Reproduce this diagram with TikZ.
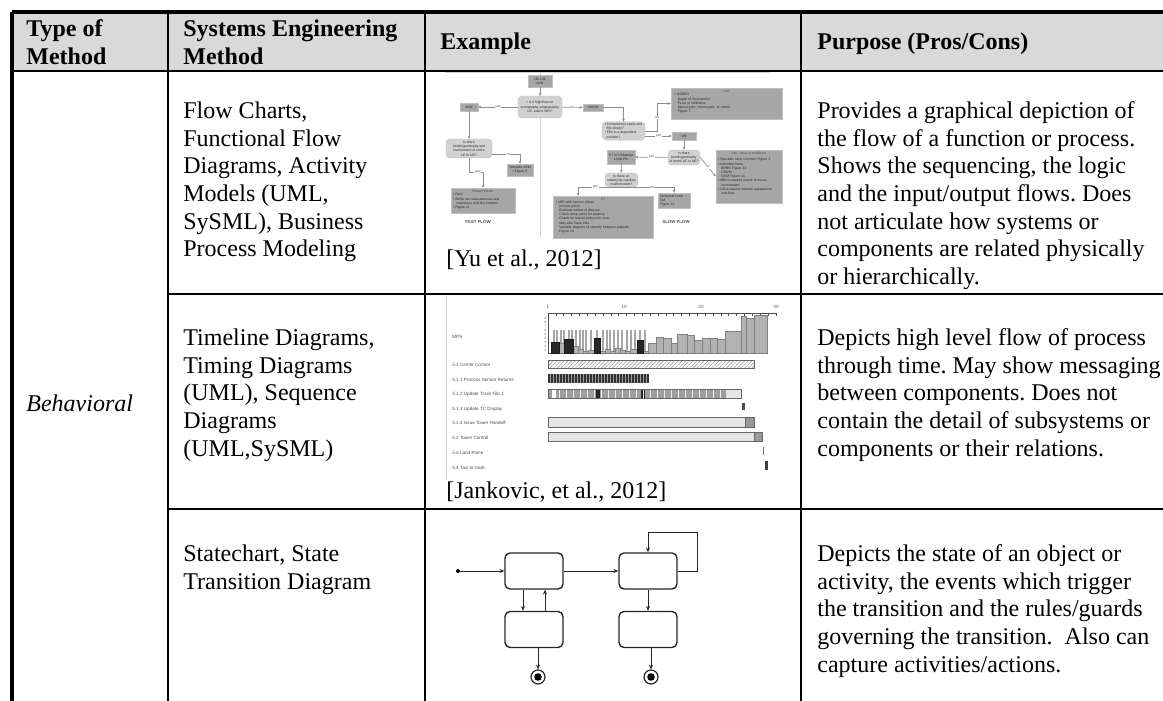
\documentclass[tikz,border=0pt]{standalone}
\usepackage{fontspec}
\setmainfont{Liberation Serif}
\setsansfont{Liberation Sans}
\usepackage{tikz}
\usetikzlibrary{positioning}
\usetikzlibrary{arrows.meta}
\usetikzlibrary{patterns.meta}
\frenchspacing
\newcommand\cellfont{\fontsize{12}{13.8}\selectfont}
\newcommand\flowfont{\fontsize{1.7}{2.1}\selectfont\sffamily}
\newcommand\tlfont{\fontsize{2.3}{2.8}\selectfont\sffamily}
\tikzset{
    rule/.style = {line width=1.3pt},
    outer/.style = {line width=1.7pt},
    headfill/.style = {fill=black!15},
    cell/.style = {anchor=north west, inner sep=0pt, align=left, font=\cellfont},
    head/.style = {cell, font=\cellfont\bfseries},
    fbox/.style = {fill=black!35, draw=black!25, line width=0.2pt, inner sep=0.6pt, align=left, font=\flowfont, text=black!85},
    fround/.style = {fbox, fill=black!18, rounded corners=2pt, align=center},
    flow/.style = {draw=black!45, line width=0.35pt, -{Stealth[length=1.6pt, width=1.4pt]}},
    fl/.style = {font=\flowfont, fill=white, inner sep=0.3pt, text=black!70},
    sep/.style = {draw=black!18, line width=0.5pt},
    tl/.style = {anchor=west, inner sep=0pt, font=\tlfont, text=black!70},
    lightbar/.style = {fill=black!30, draw=black!50, line width=0.2pt},
    darkbar/.style = {fill=black!85, draw=black!90, line width=0.2pt},
    state/.style = {draw=black!85, line width=0.7pt, rounded corners=2.5pt, minimum width=29pt, minimum height=18pt, inner sep=0pt},
    startdot/.style = {circle, fill=black, minimum size=2pt, inner sep=0pt},
    stopdot/.style = {circle, draw=black!85, line width=0.6pt, minimum size=7pt, inner sep=0pt,
        path picture={\fill (path picture bounding box.center) circle (1.9pt);}},
    trans/.style = {draw=black!85, line width=0.5pt, -{Stealth[length=2.4pt, width=2pt]}}
}

\begin{document}
\begin{tikzpicture}[x=0.5pt, y=-0.5pt]
    \useasboundingbox (0, 0) rectangle (1163, 701);

    % table frame
    \fill [style=headfill] (12, 12) rectangle (1163, 71);
    \draw [style=outer] (12, 12) -- (1163, 12);
    \draw [style=rule] (12, 71) -- (1163, 71);
    \draw [style=rule] (168, 294) -- (1163, 294);
    \draw [style=rule] (168, 509) -- (1163, 509);
    \draw [style=outer] (12, 12) -- (12, 701);
    \draw [style=rule] (168, 12) -- (168, 701);
    \draw [style=rule] (425, 12) -- (425, 701);
    \draw [style=rule] (801, 12) -- (801, 701);

    % header
    \node [style=head] (h1) at (26, 17) {\strut Type of\\Method};
    \node [style=head] (h2) at (183, 17) {\strut Systems Engineering\\Method};
    \node [style=head] (h3) at (440, 30) {\strut Example};
    \node [style=head] (h4) at (817, 30) {\strut Purpose (Pros/Cons)};

    % type column
    \node [style=cell, font=\cellfont\itshape] (kind) at (26, 392) {\strut Behavioral};

    % method column
    \node [style=cell] (m1) at (183, 99) {\strut Flow Charts,\\Functional Flow\\Diagrams, Activity\\Models (UML,\\SySML), Business\\Process Modeling};
    \node [style=cell] (m2) at (183, 326) {\strut Timeline Diagrams,\\Timing Diagrams\\(UML), Sequence\\Diagrams\\(UML,SySML)};
    \node [style=cell] (m3) at (183, 542) {\strut Statechart, State\\Transition Diagram};

    % purpose column
    \node [style=cell] (p1) at (817, 99) {\strut Provides a graphical depiction of\\the flow of a function or process.\\Shows the sequencing, the logic\\and the input/output flows. Does\\not articulate how systems or\\components are related physically\\or hierarchically.};
    \node [style=cell] (p2) at (817, 326) {\strut Depicts high level flow of process\\through time. May show messaging\\between components. Does not\\contain the detail of subsystems or\\components or their relations.};
    \node [style=cell] (p3) at (817, 542) {\strut Depicts the state of an object or\\activity, the events which trigger\\the transition and the rules/guards\\governing the transition.\ \ Also can\\capture activities/actions.};

    % example 1: flow chart
    \draw [style=sep] (445, 73) -- (770, 73);
    \draw [style=sep] (540, 73) -- (540, 237);
    \node [style=fbox, minimum width=12pt, minimum height=6pt, align=center] (fTop) at (540, 81) {VM, LM,\\AVM};
    \node [style=fround, minimum width=22pt, minimum height=11pt] (fHigh) at (540, 107) {\textbullet{} Is it high flow on\\sonography, angiography,\\US, and/or MRI?};
    \node [style=fbox, minimum width=9pt, minimum height=4pt] (fAVM) at (469, 107) {AVM};
    \node [style=fbox, minimum width=10pt, minimum height=3.5pt] (fVMLM) at (593, 107.5) {VM/LM};
    \node [style=fround, minimum width=21.5pt, minimum height=9pt, align=left] (fComp) at (623.5, 131) {\textbullet{} Compresses easily and\\\ \ fills slowly?\\\textbullet{} Fills in a dependent\\\ \ position?};
    \node [style=fbox, minimum width=55.5pt, minimum height=15.5pt, text width=52pt,
        label={[style=fl, fill=none, anchor=north, yshift=-0.6pt]north:LM}] (fLM) at (726.5, 103.5) {\textbullet{} US/MRI\\\quad Depth of involvement\\\quad Focal or infiltrative\\\quad Macrocystic, microcystic, or mixed\\\quad Figure 7};
    \node [style=fbox, minimum width=12pt, minimum height=4pt] (fVM1) at (684, 136) {VM};
    \node [style=fround, minimum width=16pt, minimum height=7.5pt] (fHemi) at (684, 157.5) {Is there\\hemihypertrophy\\of entire LE or UE?};
    \node [style=fbox, minimum width=14pt, minimum height=7pt, align=center] (fKTVM) at (621, 157) {KT or Unilateral\\Limb VM};
    \node [style=fbox, minimum width=33pt, minimum height=26.5pt, text width=31pt,
        label={[style=fl, fill=none, anchor=north, yshift=-0.6pt]north:VM - focal or multifocal}] (fVMfocal) at (749, 176.5) {\textbullet{} Sporadic most common Figure 1\\\textbullet{} Inherited forms\\\quad BRBN Figure 12\\\quad CMVM\\\quad GVM Figure 14\\\textbullet{} MRI to assess extent of tissue\\\quad involvement\\\textbullet{} US to assess internal appearance\\\quad and flow};
    \node [style=fround, minimum width=16.5pt, minimum height=7pt] (fCap) at (621.5, 180) {Is there an\\underlying capillary\\malformation?};
    \node [style=fbox, minimum width=50pt, minimum height=21pt, text width=47pt,
        label={[style=fl, fill=none, anchor=north, yshift=-0.6pt]north:KT}] (fKT) at (603, 217) {\textbullet{} MRI with venous phase\\\quad Include pelvis\\\quad Evaluate extent of disease\\\quad Check deep veins for patency\\\quad Check for lateral embryonic vein\\\quad May also have LMs\\\quad Variable degrees of severity between patients\\\quad Figure 10};
    \node [style=fbox, minimum width=16pt, minimum height=7.5pt, text width=14pt] (fUni) at (674, 200.5) {Unilateral Limb\\VM\\Figure 13};
    \node [style=fround, minimum width=23pt, minimum height=9.5pt] (fHemiL) at (469, 148.5) {Is there\\hemihypertrophy and\\involvement of entire\\LE or UE?};
    \node [style=fbox, minimum width=13pt, minimum height=6pt, align=center] (fSpor) at (520, 170) {Sporadic AVM\\\textbullet{} Figure 9};
    \node [style=fbox, minimum width=32pt, minimum height=12.5pt, text width=30pt,
        label={[style=fl, fill=none, anchor=north, yshift=-0.6pt]north:Parkes Weber}] (fPW) at (483, 200.5) {\\\textbullet{} Rare\\\textbullet{} AVMs are subcutaneous and\\\quad cutaneous and tiny feeders\\\textbullet{} Figure 11};
    \node [style=fl, font=\fontsize{2.2}{2.6}\selectfont\sffamily\bfseries] (ff) at (478, 222) {FAST FLOW};
    \node [style=fl, font=\fontsize{2.2}{2.6}\selectfont\sffamily\bfseries] (sf) at (676, 222) {SLOW FLOW};
    \draw [style=flow] (fTop) -- (fHigh);
    \draw [style=flow] (fHigh) -- node [style=fl] {yes} (fAVM);
    \draw [style=flow] (fHigh) -- node [style=fl] {no} (fVMLM);
    \draw [style=flow] (fVMLM) -| (fComp);
    \draw [style=flow] (fComp.east) -- ++(6pt, 0) |- node [style=fl, pos=0.25] {no} (fLM.west);
    \draw [style=flow] ([yshift=-2.5pt]fComp.east) -- node [style=fl] {yes} ([yshift=-2.5pt]fComp.east -| fVM1.west);
    \draw [style=flow] (fVM1) -- (fHemi);
    \draw [style=flow] (fHemi) -- node [style=fl] {yes} (fKTVM);
    \draw [style=flow] (fHemi.east) -- node [style=fl] {no} (fVMfocal.west);
    \draw [style=flow] (fKTVM) -- (fCap);
    \draw [style=flow] (fCap.south) -| node [style=fl, pos=0.3] {yes} ([xshift=-12.5pt]fKT.north);
    \draw [style=flow] (fCap.south) -| node [style=fl, pos=0.3] {no} (fUni.north);
    \draw [style=flow] (fAVM) -- (fHemiL);
    \draw [style=flow] ([yshift=-3pt]fHemiL.east) -| node [style=fl, pos=0.3] {no} (fSpor.north);
    \draw [style=flow] (fHemiL.south) -- ++(0, -7pt) -| node [style=fl, pos=0.3] {yes} (fPW.north);
    \node [style=cell] (c1) at (446, 247) {\strut [Yu et al., 2012]};

    % example 2: timeline
    \draw [style=sep] (446, 296) -- (446, 480);
    \draw [black!70, line width=0.4pt] (548, 313) -- (776, 313);
    \foreach \t in {0, 1, ..., 29}
        \draw [black!70, line width=0.3pt] (548 + \t * 7.86, 313) -- (548 + \t * 7.86, 316);
    \node [style=tl, anchor=south] (n1) at (548, 309) {1};
    \node [style=tl, anchor=south] (n10) at (624, 309) {10};
    \node [style=tl, anchor=south] (n20) at (701, 309) {20};
    \node [style=tl, anchor=south] (n30) at (776, 309) {30};
    \foreach \n [count=\k] in {9, 8, 7, 6, 5, 4, 3, 2, 1}
        \node [style=tl, anchor=east, font=\fontsize{1.6}{2}\selectfont\sffamily] at (547, 314 + \k * 4) {\n};
    \draw [black!70, line width=0.4pt] (548, 315) -- (548, 353) -- (767, 353);
    \foreach \xs in {553, 556, 560, 563, 568, 571, 575, 579, 582, 585, 590, 596, 602, 606, 609, 613, 617, 621, 626, 630, 634, 639, 644}
        \draw [black!35, line width=0.2pt] (\xs, 353) -- (\xs, 330) -- (\xs + 1.5, 330) -- (\xs + 1.5, 353);
    \foreach \xa/\xb/\yt in {559/564/343, 573/578/346, 578/583/349, 583/588/351, 588/594/350, 600/605/351, 605/610/349, 610/615/351, 615/620/348, 620/625/350, 625/630/351, 630/637/349, 643/648/351, 648/656/343, 656/663/337, 663/671/338, 671/677/343, 677/687/334, 687/694/335, 694/702/340, 702/710/338, 710/717/338, 717/725/339, 725/741/331, 741/746/316, 746/754/318, 754/767/315}
        \draw [style=lightbar] (\xa, \yt) rectangle (\xb, 353);
    \foreach \xa/\xb/\yt in {551/559/342, 564/573/339, 594/600/338, 637/643/340}
        \draw [style=darkbar] (\xa, \yt) rectangle (\xb, 353);
    \node [style=tl] (mps) at (452, 337) {MPS};
    \node [style=tl] (tl1) at (452, 365) {5.1 Center Control};
    \node [style=tl] (tl2) at (452, 380) {5.1.1 Process Sensor Returns};
    \node [style=tl] (tl3) at (452, 394) {5.1.2 Update Track File 1};
    \node [style=tl] (tl4) at (452, 409) {5.1.3 Update TC Display};
    \node [style=tl] (tl5) at (452, 423) {5.1.4 Issue Tower Handoff};
    \node [style=tl] (tl6) at (452, 438) {5.2 Tower Control};
    \node [style=tl] (tl7) at (452, 453) {5.3 Land Plane};
    \node [style=tl] (tl8) at (452, 468) {5.4 Taxi to Gate};
    \draw [draw=black!60, line width=0.3pt, fill=black!8,
        pattern={Lines[angle=45, distance=1.3pt, line width=0.25pt]}, pattern color=black!45] (548, 360) rectangle (754, 368);
    \draw [draw=black!60, line width=0.3pt] (548, 360) rectangle (754, 368);
    \fill [black!80] (548, 374) rectangle (649, 383);
    \foreach \xs in {550, 553, ..., 647}
        \draw [black!40, line width=0.3pt] (\xs, 374) -- (\xs, 383);
    \fill [black!38] (548, 389) rectangle (726, 398);
    \fill [black!10] (726, 389) rectangle (741, 398);
    \fill [white] (552, 389) rectangle (556, 398);
    \fill [black!85] (596, 389) rectangle (600, 398);
    \fill [black!85] (641, 389) rectangle (645, 398);
    \foreach \xs in {559, 566, ..., 724}
        \draw [black!8, line width=0.5pt] (\xs, 389) -- (\xs, 398);
    \draw [draw=black!60, line width=0.3pt] (548, 389) rectangle (741, 398);
    \fill [black!70] (742, 403) rectangle (745, 410);
    \draw [draw=black!60, line width=0.3pt, fill=black!10] (548, 417) rectangle (745, 427);
    \draw [draw=black!60, line width=0.3pt, fill=black!40] (745, 417) rectangle (754, 427);
    \draw [draw=black!60, line width=0.3pt, fill=black!10] (548, 432) rectangle (754, 441);
    \draw [draw=black!60, line width=0.3pt, fill=black!40] (754, 432) rectangle (762, 441);
    \fill [black!55] (762.5, 447) rectangle (764, 455);
    \fill [black!75] (765, 461) rectangle (768, 470);
    \node [style=cell] (c2) at (446, 479) {\strut [Jankovic, et al., 2012]};

    % example 3: state chart
    \node [style=state] (s1) at (534, 571) {};
    \node [style=state] (s2) at (648, 571) {};
    \node [style=state] (s3) at (534, 629.5) {};
    \node [style=state] (s4) at (648, 629.5) {};
    \node [style=startdot] (s0) at (458, 571) {};
    \node [style=stopdot] (e1) at (538, 677) {};
    \node [style=stopdot] (e2) at (651, 677) {};
    \coordinate (loop) at (697, 532);
    \draw [style=trans] (s0) -- (s1);
    \draw [style=trans] (s1) -- (s2);
    \draw [style=trans] ([xshift=-5.5pt]s1.south) -- ([xshift=-5.5pt]s3.north);
    \draw [style=trans] ([xshift=5.5pt]s3.north) -- ([xshift=5.5pt]s1.south);
    \draw [style=trans] (s2) -- (s4);
    \draw [style=trans] ([xshift=2pt]s3.south) -- (e1);
    \draw [style=trans] ([xshift=1.5pt]s4.south) -- (e2);
    \draw [style=trans] (s2.east) -| (loop) -| (s2.north);
\end{tikzpicture}
\end{document}
